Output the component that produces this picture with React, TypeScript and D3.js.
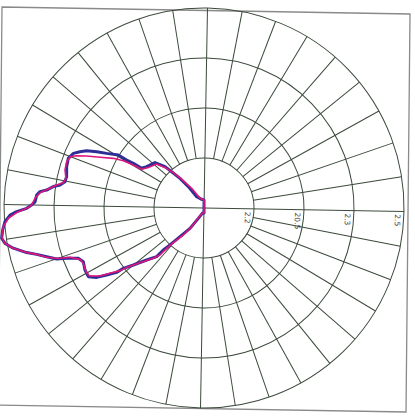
import React from "react";
import * as d3 from "d3";

const W = 415;
const H = 416;

// Grid rings (radial units) and their tick labels
const ringValues = [50, 100, 150, 200];
const ringLabels = ["2.2", "20.5", "2.3", "2.5"];
const spokeStep = 10;

// Blue series: polar angle (deg, CCW from right) and radius
const blueAngles = [90, 105, 122.9, 126.3, 129.0, 131.7, 133.3, 137.2, 144.2, 147.5, 147.7, 148.2, 148.3, 150.7, 152.3, 154.0, 155.6, 157.3, 159.9, 163.3, 167.1, 169.3, 170.9, 171.9, 173.5, 174.3, 175.6, 177.9, 179.0, 180.1, 181.1, 182.1, 183.9, 186.2, 188.5, 190.1, 191.9, 194.1, 195.5, 197.2, 199.1, 200.1, 201.8, 204.0, 207.5, 210.7, 212.9, 214.5, 216.4, 216.8, 218.9, 222.2, 225.8, 225.9, 227.4, 230.1, 235.5, 241.3, 255, 270];
const blueValues = [8, 9, 13.5, 26.5, 38.2, 48.6, 56.8, 66.8, 70.7, 73.9, 83.6, 91, 100.7, 111.6, 121.2, 130.6, 136.2, 141.6, 144.5, 143.4, 140.9, 141.5, 145.8, 152.2, 158.4, 164.8, 167.8, 169.1, 172.4, 177.3, 187.4, 194.1, 199.5, 202.5, 204.6, 202.1, 194.9, 182.9, 173.6, 164.7, 155.9, 146.3, 135.4, 132.1, 134.2, 134.5, 127.8, 118.2, 108.5, 100.7, 90.8, 77.4, 67.9, 58.5, 50.2, 37.4, 24.7, 11.8, 5, 5];

// Magenta series
const magentaAngles = [90, 112.5, 122.1, 127.9, 131.0, 133.3, 137.1, 143.9, 148.2, 148.7, 149.6, 151.3, 154.0, 156.1, 157.7, 158.9, 161.4, 164.7, 167.9, 169.8, 171.1, 172.7, 174.7, 176.7, 179.0, 180.1, 181.4, 183.0, 185.3, 188.1, 190.1, 191.9, 194.1, 195.5, 197.4, 199.1, 200.2, 202.5, 204.6, 208.4, 210.7, 213.2, 214.8, 216.7, 217.8, 220.5, 224.8, 226.9, 227.2, 228.5, 232.6, 236.5, 241.7, 255, 270];
const magentaValues = [8, 10.5, 23.2, 36.3, 46.8, 54.5, 64.6, 68.9, 73.4, 82.7, 93.5, 103.4, 115.7, 128.3, 137.7, 142.9, 144.9, 144.1, 141.2, 142.9, 149.1, 155.3, 164.7, 169.3, 172.4, 177.3, 187.4, 195.9, 201.5, 204.4, 202.1, 194.9, 182.9, 173.6, 164.9, 154.1, 142.8, 134.2, 132.8, 134.1, 133.3, 124.3, 114.5, 104.8, 95.7, 84.2, 71.4, 64.4, 55.0, 46.3, 34.0, 22.4, 9.8, 5, 5];

const cx = 204;
const cy = 208;

export default function App() {
  const r = d3.scaleLinear().domain([0, 200]).range([0, 200]);
  const toRad = (deg: number) => ((90 - deg) * Math.PI) / 180;

  const line = d3
    .lineRadial<[number, number]>()
    .angle((d) => toRad(d[0]))
    .radius((d) => r(d[1]))
    .curve(d3.curveLinearClosed);

  const blueData: [number, number][] = blueAngles.map((a, i) => [a, blueValues[i]]);
  const magentaData: [number, number][] = magentaAngles.map((a, i) => [a, magentaValues[i]]);

  const spokes = d3.range(0, 360, spokeStep);
  const gridColor = "#3b4a3b";
  const rMin = r(ringValues[0]);
  const rMax = r(ringValues[ringValues.length - 1]);

  return (
    <svg
      width={W}
      height={H}
      style={{ position: "absolute", left: 0, top: 0, background: "#fff" }}
    >
      <rect x={0} y={0} width={W} height={H} fill="#fff" />
      <polygon
        points="2,7 410,14 406,412 -2,405"
        fill="none"
        stroke="#8a8a8a"
        strokeWidth={1.3}
      />
      <g transform={`translate(${cx},${cy}) rotate(1)`}>
        {ringValues.map((v) => (
          <circle key={v} r={r(v)} fill="none" stroke={gridColor} strokeWidth={1} />
        ))}
        {spokes.map((a) => {
          const start = a % 90 === 0 ? 0 : rMin;
          const t = (a * Math.PI) / 180;
          return (
            <line
              key={a}
              x1={start * Math.cos(t)}
              y1={-start * Math.sin(t)}
              x2={rMax * Math.cos(t)}
              y2={-rMax * Math.sin(t)}
              stroke={gridColor}
              strokeWidth={1}
            />
          );
        })}
        {ringValues.map((v, i) => (
          <text
            key={v}
            transform={`translate(${r(v) - 9},${3}) rotate(90)`}
            fontFamily="DejaVu Sans, sans-serif"
            fontSize={7.5}
            fill="#444"
          >
            {ringLabels[i]}
          </text>
        ))}
      </g>
      <g transform={`translate(${cx},${cy})`}>
        <path d={line(blueData) || ""} fill="none" stroke="#2e2e96" strokeWidth={3} strokeLinejoin="round" />
        <path d={line(magentaData) || ""} fill="none" stroke="#e0157c" strokeWidth={1.6} strokeLinejoin="round" />
      </g>
    </svg>
  );
}
